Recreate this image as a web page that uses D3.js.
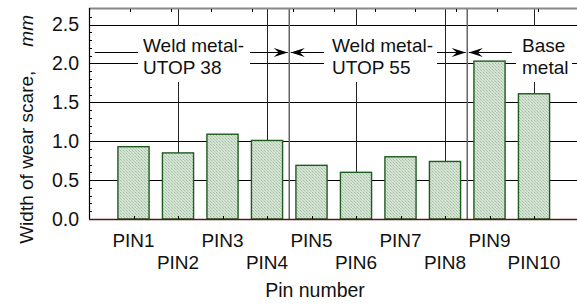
<!DOCTYPE html>
<html>
<head>
<meta charset="utf-8">
<script src="https://cdn.jsdelivr.net/npm/d3@7"></script>
<style>
  html, body { margin: 0; padding: 0; background: #fff; }
  svg { display: block; font-family: Arial, "Liberation Sans", sans-serif; }
</style>
</head>
<body>
<div id="chart"></div>
<script>
const pins = ["PIN1", "PIN2", "PIN3", "PIN4", "PIN5", "PIN6", "PIN7", "PIN8", "PIN9", "PIN10"];
const wear = [0.93, 0.85, 1.09, 1.01, 0.69, 0.60, 0.80, 0.74, 2.03, 1.61];
const yTicks = [0.0, 0.5, 1.0, 1.5, 2.0, 2.5];
const groups = [
  { lines: ["Weld metal-", "UTOP 38"], from: 0.13, to: 4.5 },
  { lines: ["Weld metal-", "UTOP 55"], from: 4.5, to: 8.5 },
  { lines: ["Base", "metal"], from: 8.5, to: 9.5 }
];

const width = 577, height = 308;
const plot = { left: 89, right: 578.5, top: 9, bottom: 219 };

const svg = d3.select("#chart").append("svg")
  .attr("width", width)
  .attr("height", height);

const defs = svg.append("defs");
const pat = defs.append("pattern")
  .attr("id", "stipple")
  .attr("patternUnits", "userSpaceOnUse")
  .attr("width", 3)
  .attr("height", 3);
pat.append("rect").attr("width", 3).attr("height", 3).attr("fill", "#d5e3d5");
pat.append("rect").attr("x", 0).attr("y", 0).attr("width", 1).attr("height", 1).attr("fill", "#a3bfa3");
pat.append("rect").attr("x", 1).attr("y", 1).attr("width", 1).attr("height", 1).attr("fill", "#b0caae");
pat.append("rect").attr("x", 2).attr("y", 2).attr("width", 1).attr("height", 1).attr("fill", "#bcd3bc");

const x = d3.scaleLinear().domain([0, 11]).range([plot.left, plot.right]);
const xTop = d3.scaleLinear().domain([0, 12]).range([plot.left, plot.right]);
const y = d3.scaleLinear().domain([0, 2.7]).range([plot.bottom, plot.top]);

// horizontal grid
svg.append("g").selectAll("line")
  .data(yTicks.filter((d) => d > 0))
  .join("line")
  .attr("x1", plot.left).attr("x2", plot.right)
  .attr("y1", (d) => Math.round(y(d)) + 0.5).attr("y2", (d) => Math.round(y(d)) + 0.5)
  .attr("stroke", "#000").attr("stroke-width", 1);

// vertical grid at even pins
svg.append("g").selectAll("line")
  .data(d3.range(2, 11, 2))
  .join("line")
  .attr("x1", (d) => Math.round(x(d)) + 0.5).attr("x2", (d) => Math.round(x(d)) + 0.5)
  .attr("y1", plot.top).attr("y2", plot.bottom)
  .attr("stroke", "#222").attr("stroke-width", 1);

// group dividers
svg.append("g").selectAll("line")
  .data([4.5, 8.5])
  .join("line")
  .attr("x1", (d) => x(d)).attr("x2", (d) => x(d))
  .attr("y1", plot.top).attr("y2", plot.bottom)
  .attr("stroke", "#666").attr("stroke-width", 1.5);

// arrow lines
const arrowY = Math.round(y(2.15)) + 0.5;
const ann = svg.append("g");
ann.selectAll("line.arr")
  .data(groups)
  .join("line")
  .attr("class", "arr")
  .attr("x1", (d, i) => i === 0 ? x(d.from) : x(d.from) + 1.5)
  .attr("x2", (d, i) => i === 2 ? x(d.to) : x(d.to) - 1.5)
  .attr("y1", arrowY).attr("y2", arrowY)
  .attr("stroke", "#000").attr("stroke-width", 1);

function arrowHead(tipX, dir) {
  const len = 14, half = 4.5, notch = 9;
  return `M${tipX},${arrowY} L${tipX - dir * len},${arrowY - half} L${tipX - dir * notch},${arrowY} L${tipX - dir * len},${arrowY + half} Z`;
}
const heads = [
  { tip: x(4.5) - 1.5, dir: 1 },
  { tip: x(4.5) + 1.5, dir: -1 },
  { tip: x(8.5) - 1.5, dir: 1 },
  { tip: x(8.5) + 1.5, dir: -1 }
];
ann.selectAll("path.head")
  .data(heads)
  .join("path")
  .attr("class", "head")
  .attr("d", (d) => arrowHead(d.tip, d.dir))
  .attr("fill", "#000");

// label boxes
const boxes = [
  { x0: 138, x1: 250, tx: 143 },
  { x0: 324, x1: 437, tx: 332 },
  { x0: 516, x1: 572, tx: 522 }
];
svg.append("g").selectAll("rect")
  .data(boxes)
  .join("rect")
  .attr("x", (d) => d.x0).attr("width", (d) => d.x1 - d.x0)
  .attr("y", 26).attr("height", 56)
  .attr("fill", "#fff");

const labels = svg.append("g");
groups.forEach((g, i) => {
  labels.append("text")
    .attr("x", boxes[i].tx)
    .attr("y", 52)
    .attr("font-size", 19)
    .attr("fill", "#111")
    .selectAll("tspan")
    .data(g.lines)
    .join("tspan")
    .attr("x", boxes[i].tx)
    .attr("dy", (d, j) => j === 0 ? 0 : 22)
    .text((d) => d);
});

// bars
svg.append("g").selectAll("rect")
  .data(wear)
  .join("rect")
  .attr("x", (d, i) => x(i + 1 - 0.35))
  .attr("width", (d, i) => x(i + 1 + 0.35) - x(i + 1 - 0.35))
  .attr("y", (d) => y(d))
  .attr("height", (d) => y(0) - y(d))
  .attr("fill", "url(#stipple)")
  .attr("stroke", "#1f5a1f")
  .attr("stroke-width", 1.4);

// top frame
svg.append("line")
  .attr("x1", plot.left).attr("x2", plot.right)
  .attr("y1", plot.top - 0.5).attr("y2", plot.top - 0.5)
  .attr("stroke", "#888").attr("stroke-width", 2);

// top ticks
svg.append("g").selectAll("line")
  .data(d3.range(1, 12))
  .join("line")
  .attr("x1", (d) => Math.round(xTop(d)) + 0.5).attr("x2", (d) => Math.round(xTop(d)) + 0.5)
  .attr("y1", plot.top).attr("y2", plot.top + 3)
  .attr("stroke", "#000");

// left axis
const yAxis = d3.axisLeft(y)
  .tickValues(yTicks)
  .tickFormat(d3.format(".1f"))
  .tickSize(0)
  .tickPadding(10);
const yg = svg.append("g")
  .attr("transform", `translate(${plot.left},0)`)
  .call(yAxis);
yg.select(".domain").remove();
yg.selectAll("text")
  .attr("font-size", 19.5)
  .attr("font-family", "Arial, 'Liberation Sans', sans-serif")
  .attr("fill", "#111");

svg.append("g").selectAll("line")
  .data(d3.range(1, 27).filter((d) => d % 5 !== 0))
  .join("line")
  .attr("x1", plot.left).attr("x2", plot.left + 3)
  .attr("y1", (d) => Math.round(y(d / 10)) + 0.5).attr("y2", (d) => Math.round(y(d / 10)) + 0.5)
  .attr("stroke", "#000");

svg.append("line")
  .attr("x1", plot.left + 0.5).attr("x2", plot.left + 0.5)
  .attr("y1", plot.top - 1).attr("y2", plot.bottom)
  .attr("stroke", "#000").attr("stroke-width", 1.2);

// bottom axis
svg.append("g").selectAll("line")
  .data(d3.range(1, 11))
  .join("line")
  .attr("x1", (d) => Math.round(x(d)) + 0.5).attr("x2", (d) => Math.round(x(d)) + 0.5)
  .attr("y1", plot.bottom).attr("y2", plot.bottom - 3)
  .attr("stroke", "#000");

svg.append("line")
  .attr("x1", plot.left).attr("x2", plot.right)
  .attr("y1", plot.bottom + 0.5).attr("y2", plot.bottom + 0.5)
  .attr("stroke", "#5a1414").attr("stroke-width", 1.5);

svg.append("g").selectAll("text")
  .data(pins)
  .join("text")
  .attr("x", (d, i) => x(i + 1))
  .attr("y", (d, i) => i % 2 === 0 ? 247 : 269)
  .attr("text-anchor", "middle")
  .attr("font-size", 19)
  .attr("fill", "#111")
  .text((d) => d);

svg.append("text")
  .attr("x", 315)
  .attr("y", 297)
  .attr("text-anchor", "middle")
  .attr("font-size", 19.5)
  .attr("fill", "#111")
  .text("Pin number");

const yl = svg.append("text")
  .attr("transform", "translate(33,15) rotate(-90)")
  .attr("text-anchor", "end")
  .attr("font-size", 19)
  .attr("fill", "#111");
yl.append("tspan").text("Width of wear scare,");
yl.append("tspan").attr("dx", 24).attr("font-style", "italic").text("mm");
</script>
</body>
</html>
